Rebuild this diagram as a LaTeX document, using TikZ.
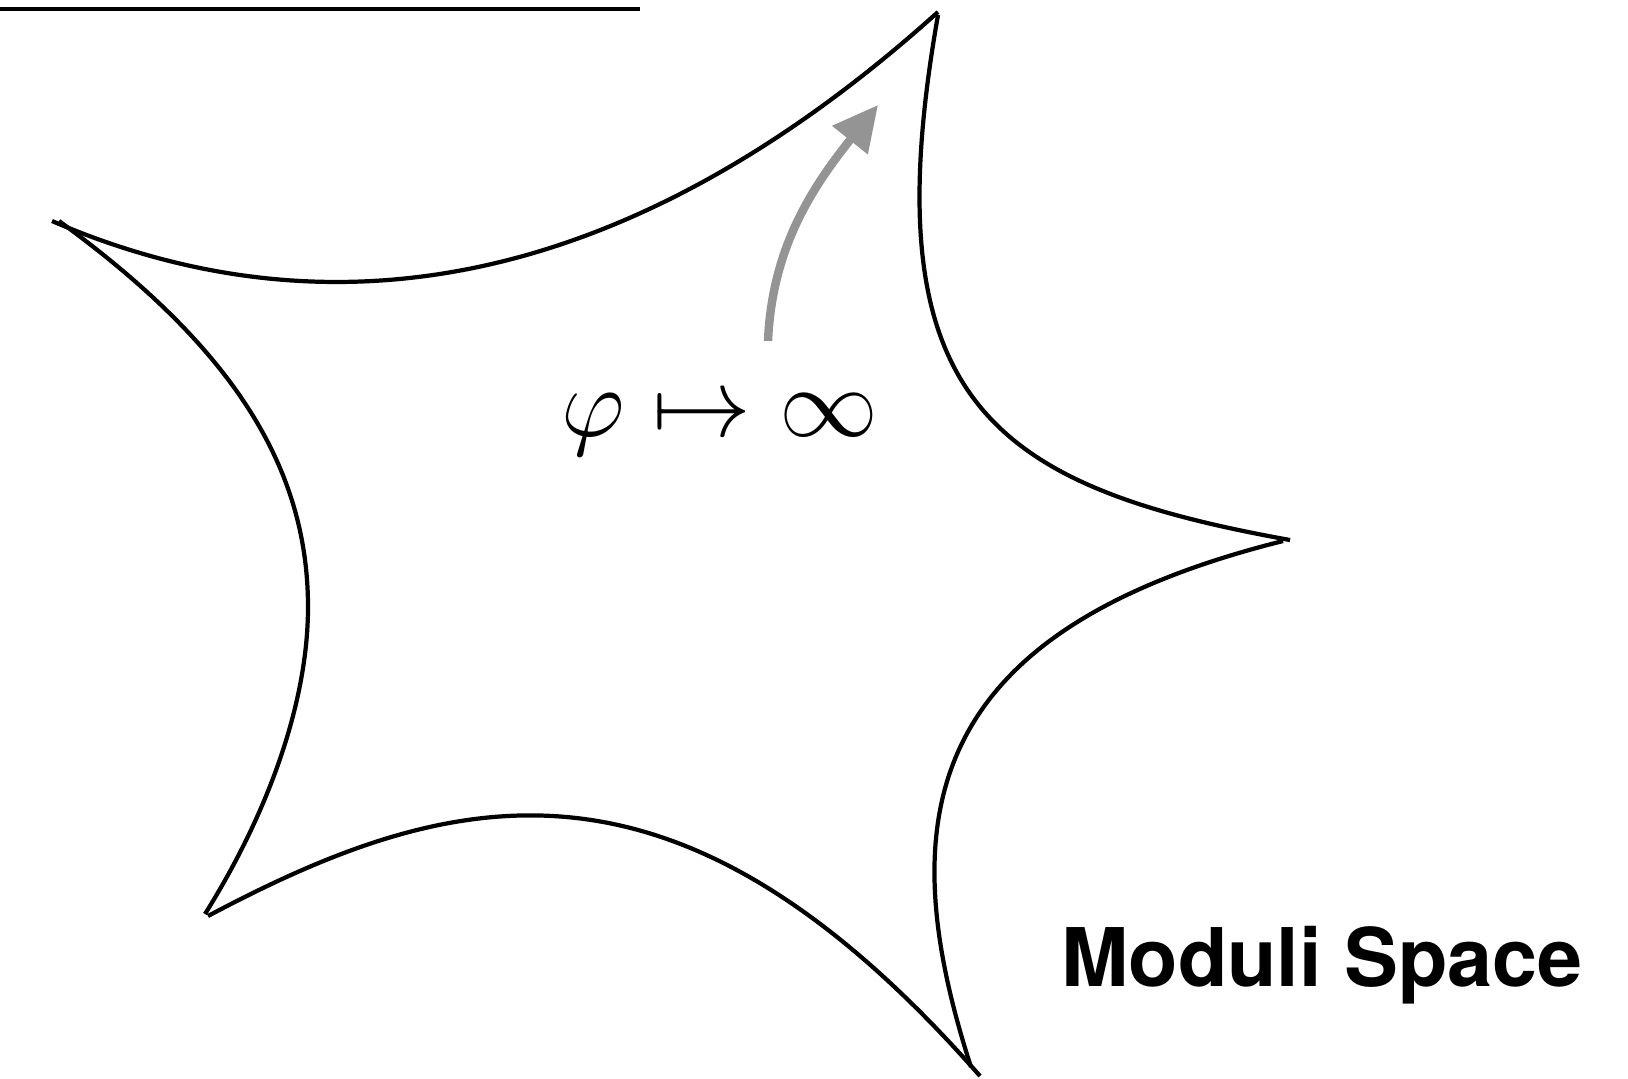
\documentclass[tikz,border=0pt]{standalone}
\usepackage{amsmath,amssymb}
\usepackage{fontspec}
\setsansfont{TeX Gyre Heros}
\usepackage{tikz}
\usetikzlibrary{arrows.meta}

\begin{document}
\begin{tikzpicture}[
  x=0.01cm, y=-0.01cm,
  rim/.style={line width=1.2pt},
  flow/.style={line width=2.4pt, black!42,
               -{Triangle[length=12.8pt, width=12.4pt]}},
  lbl/.style={anchor=base},
]
\useasboundingbox (0,0) rectangle (1628,1078);
% ---- top rule ---------------------------------------------------------
\draw[rim] (0,9) -- (640,9);
% ---- the star-shaped region: five cusped arcs ------------------------
\draw[rim] (52,221) .. controls (340,345) and (638,282) .. (938,12);
\draw[rim] (938,15) .. controls (870,400) and (990,486) .. (1290,540);
\draw[rim] (1283,541) .. controls (923,631) and (890,817) .. (971,1067);
\draw[rim] (208,916) .. controls (458,783) and (680,734) .. (980,1076);
\draw[rim] (59,221) .. controls (224,341) and (308,460) .. (308,607)
  .. controls (308,700) and (270,810) .. (205,914);
% ---- labels -----------------------------------------------------------
\node[lbl, font=\Huge, scale=1.13] (limit) at (720,436)
  {$\varphi\mapsto\infty$};
\node[lbl, font=\sffamily\bfseries\fontsize{23}{28}\selectfont] (space)
  at (1322,986) {Moduli Space};
% ---- gray flow arrow --------------------------------------------------
\coordinate (flowstart) at (768,341);
\coordinate (flowend) at (878,105);
\draw[flow] (flowstart) .. controls (772,250) and (810,190) .. (flowend);
\end{tikzpicture}
\end{document}
